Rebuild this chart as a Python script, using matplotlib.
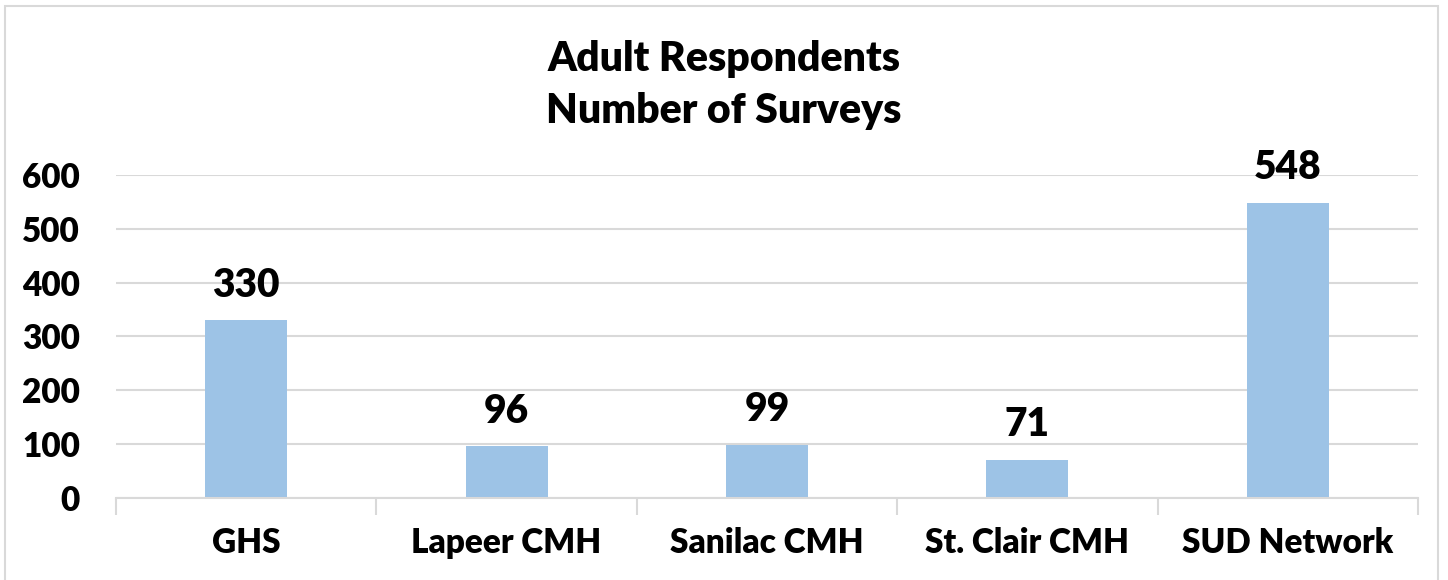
import matplotlib.pyplot as plt
from matplotlib.patches import Rectangle

# data
categories = ['GHS', 'Lapeer CMH', 'Sanilac CMH', 'St. Clair CMH', 'SUD Network']
surveys = [330, 96, 99, 71, 548]
yticks = [0, 100, 200, 300, 400, 500, 600]

plt.rcParams['font.family'] = ['Lato', 'DejaVu Sans']
W = 'heavy'

fig = plt.figure(figsize=(14.48, 5.8), dpi=100)
ax = fig.add_axes([0.0801, 0.1414, 0.8992, 0.5569])

# chart border
fig.patches.append(Rectangle((5 / 1448, -0.1), 1433 / 1448, 1.0 - 6 / 580 + 0.1,
                             transform=fig.transFigure, fill=False,
                             edgecolor='#d9d9d9', linewidth=1.5))

x = range(len(categories))
bars = ax.bar(x, surveys, width=0.315, color='#9dc3e6', zorder=2)

for xi, v in zip(x, surveys):
    ax.annotate(str(v), (xi, v), xytext=(0, 12), textcoords='offset points',
                ha='center', va='bottom', fontsize=28, fontweight=W)

ax.set_xlim(-0.5, len(categories) - 0.5)
ax.set_ylim(0, 600)
ax.set_yticks(yticks)
ax.set_yticklabels([str(t) for t in yticks], fontsize=24, fontweight=W)
ax.yaxis.grid(True, color='#d9d9d9', linewidth=1.5, zorder=0)
ax.tick_params(axis='y', length=0, pad=26)

ax.set_xticks(list(x))
ax.set_xticklabels(categories, fontsize=24, fontweight=W)
ax.set_xticks([i - 0.5 for i in range(len(categories) + 1)], minor=True)
ax.tick_params(axis='x', which='major', length=0, pad=21)
ax.tick_params(axis='x', which='minor', length=12, color='#d9d9d9', width=1.5)

for s in ['top', 'right', 'left']:
    ax.spines[s].set_visible(False)
ax.spines['bottom'].set_color('#d9d9d9')
ax.spines['bottom'].set_linewidth(1.5)

fig.text(0.5, 0.853, 'Adult Respondents\nNumber of Surveys', ha='center', va='center',
         fontsize=29.5, fontweight=W, linespacing=1.45)

fig.savefig('out.png', dpi=100)
